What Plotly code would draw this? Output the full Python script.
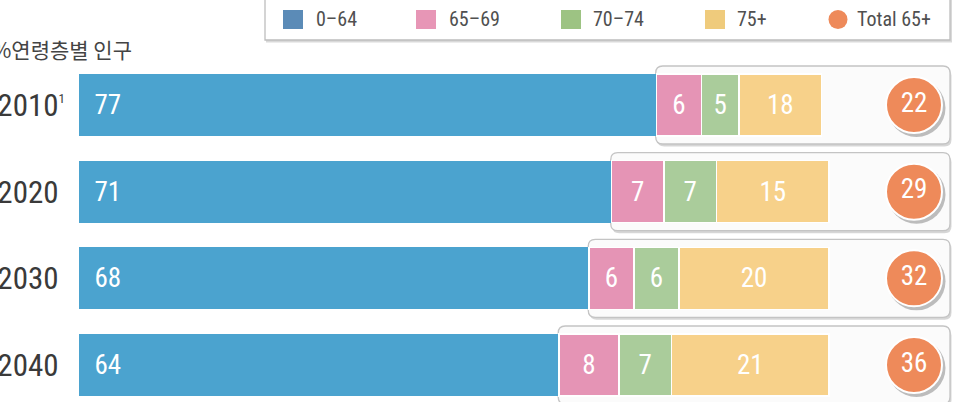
import plotly.graph_objects as go

# ---------------- data ----------------
years = ["2010", "2020", "2030", "2040"]
year_notes = ["1", "", "", ""]
age_0_64 = [77, 71, 68, 64]
age_65_69 = [6, 7, 6, 8]
age_70_74 = [5, 7, 6, 7]
age_75_plus = [11, 15, 20, 21]            # bar lengths as drawn
age_75_plus_labels = ["18", "15", "20", "21"]  # labels as printed
total_65_plus = [22, 29, 32, 36]
series_names = ["0–64", "65–69", "70–74", "75+", "Total 65+"]
title_text = "%연령층별 인구"

# ---------------- style ----------------
bar_colors = ["#4BA3CF", "#E594B5", "#AACC9B", "#F7D18A"]
legend_colors = ["#5B8BB7", "#E796B6", "#9DC383", "#EFCB7C", "#EE8A5A"]
circle_color = "#EE8A5A"
NUM_FONT = "Liberation Sans Narrow, Roboto Condensed, DejaVu Sans Condensed, Roboto, sans-serif"
KR_FONT = "Noto Sans CJK KR, Noto Sans, sans-serif"

W, H = 953, 402
L = 79
PX_UNIT = 7.5
ROW0, PITCH = 105.0, 86.67
PLOT_W = W - L


def xd(px):
    return (px - L) / PX_UNIT


def yd(py):
    return (py - ROW0) / PITCH


def xp(px):
    return (px - L) / PLOT_W


def yp(py):
    return 1 - py / H


ypos = list(range(len(years)))
bar_w = 62 / PITCH

fig = go.Figure()

fig.add_trace(go.Bar(
    y=ypos, x=age_0_64, orientation="h", width=bar_w,
    marker=dict(color=bar_colors[0], line=dict(width=0)),
    text=["\u00a0\u00a0" + str(v) for v in age_0_64],
    textposition="inside", insidetextanchor="start", constraintext="none",
    textfont=dict(family=NUM_FONT, size=27, color="white"),
    name=series_names[0], hoverinfo="skip",
))
for vals, txt, col, nm in [
    (age_65_69, [str(v) for v in age_65_69], bar_colors[1], series_names[1]),
    (age_70_74, [str(v) for v in age_70_74], bar_colors[2], series_names[2]),
    (age_75_plus, age_75_plus_labels, bar_colors[3], series_names[3]),
]:
    fig.add_trace(go.Bar(
        y=ypos, x=vals, orientation="h", width=bar_w,
        marker=dict(color=col, line=dict(width=1.5, color="white"),
                    cornerradius=5 if nm == "75+" else 0),
        text=txt, textposition="inside", insidetextanchor="middle",
        constraintext="none",
        textfont=dict(family=NUM_FONT, size=27, color="white"),
        name=nm, hoverinfo="skip",
    ))

# circle shadows + circles
circle_x = xd(914)
fig.add_trace(go.Scatter(
    x=[circle_x + 2.5 / PX_UNIT] * len(years), y=[y + 3 / PITCH for y in ypos],
    mode="markers", marker=dict(size=58, color="rgba(0,0,0,0.25)"),
    hoverinfo="skip", cliponaxis=False,
))
fig.add_trace(go.Scatter(
    x=[circle_x] * len(years), y=ypos, mode="markers+text",
    marker=dict(size=56, color=circle_color, line=dict(width=2, color="white")),
    text=[str(v) for v in total_65_plus], textposition="middle center",
    textfont=dict(family=NUM_FONT, size=27, color="white"),
    name=series_names[4], hoverinfo="skip", cliponaxis=False,
))


def rrect(x0, x1, y0, y1, rx, ry):
    return (f"M{x0+rx},{y0} L{x1-rx},{y0} Q{x1},{y0} {x1},{y0+ry} "
            f"L{x1},{y1-ry} Q{x1},{y1} {x1-rx},{y1} L{x0+rx},{y1} "
            f"Q{x0},{y1} {x0},{y1-ry} L{x0},{y0+ry} Q{x0},{y0} {x0+rx},{y0} Z")


shapes = []
half = 39 / PITCH
rx, ry = 7 / PX_UNIT, 7 / PITCH
for i, v in enumerate(age_0_64):
    x0, x1 = v - 0.1, xd(950)
    shapes.append(dict(type="path", layer="below",
                       path=rrect(x0 + 1.5 / PX_UNIT, x1 + 1.5 / PX_UNIT,
                                  i - half + 2.5 / PITCH, i + half + 2.5 / PITCH, rx, ry),
                       fillcolor="rgba(0,0,0,0.16)", line=dict(width=0)))
    shapes.append(dict(type="path", layer="below",
                       path=rrect(x0, x1, i - half, i + half, rx, ry),
                       fillcolor="#FBFBFB", line=dict(color="#C4C4C4", width=1.3)))

# custom legend box
shapes.append(dict(type="rect", xref="paper", yref="paper",
                   x0=xp(266), x1=xp(952), y0=yp(42.5), y1=yp(-6),
                   fillcolor="rgba(0,0,0,0.15)", line=dict(width=0)))
shapes.append(dict(type="rect", xref="paper", yref="paper",
                   x0=xp(265), x1=xp(950), y0=yp(40), y1=yp(-6),
                   fillcolor="white", line=dict(color="#BDBDBD", width=1.3)))
leg_sq_x = [283, 416, 561, 705]
leg_txt_x = [314, 447, 591, 735, 855]
annotations = []
for k in range(4):
    shapes.append(dict(type="rect", xref="paper", yref="paper",
                       x0=xp(leg_sq_x[k]), x1=xp(leg_sq_x[k] + 20),
                       y0=yp(29), y1=yp(10),
                       fillcolor=legend_colors[k], line=dict(width=0)))
shapes.append(dict(type="circle", xref="paper", yref="paper",
                   x0=xp(828.5), x1=xp(847.5), y0=yp(29), y1=yp(10),
                   fillcolor=legend_colors[4], line=dict(width=0)))
for k, nm in enumerate(series_names):
    annotations.append(dict(xref="paper", yref="paper", x=xp(leg_txt_x[k]), y=yp(19),
                            xanchor="left", yanchor="middle", text=nm, showarrow=False,
                            font=dict(family=NUM_FONT, size=20, color="#505050")))

annotations.append(dict(xref="paper", yref="paper", x=xp(134), y=yp(49),
                        xanchor="right", yanchor="middle", text=title_text,
                        showarrow=False,
                        font=dict(family=KR_FONT, size=21, color="#444444")))

ticktext = []
for y, n in zip(years, year_notes):
    if n:
        ticktext.append(f"{y}<sup><span style='font-size:13px'>{n}</span></sup>")
    else:
        ticktext.append(f"{y}<sup><span style='font-size:13px;fill:rgba(0,0,0,0)'>1</span></sup>")

fig.update_layout(
    width=W, height=H, autosize=False,
    margin=dict(l=L, r=0, t=0, b=0, autoexpand=False),
    paper_bgcolor="white", plot_bgcolor="rgba(0,0,0,0)",
    barmode="stack", showlegend=False,
    shapes=shapes, annotations=annotations,
    xaxis=dict(range=[0, PLOT_W / PX_UNIT], visible=False, fixedrange=True),
    yaxis=dict(range=[yd(H), yd(0)], tickvals=ypos, ticktext=ticktext,
               showgrid=False, zeroline=False, showline=False, ticks="",
               ticklabelstandoff=13,
               tickfont=dict(family=NUM_FONT, size=31, color="#3A3A3A"),
               fixedrange=True),
)

fig.write_html("out.html")
